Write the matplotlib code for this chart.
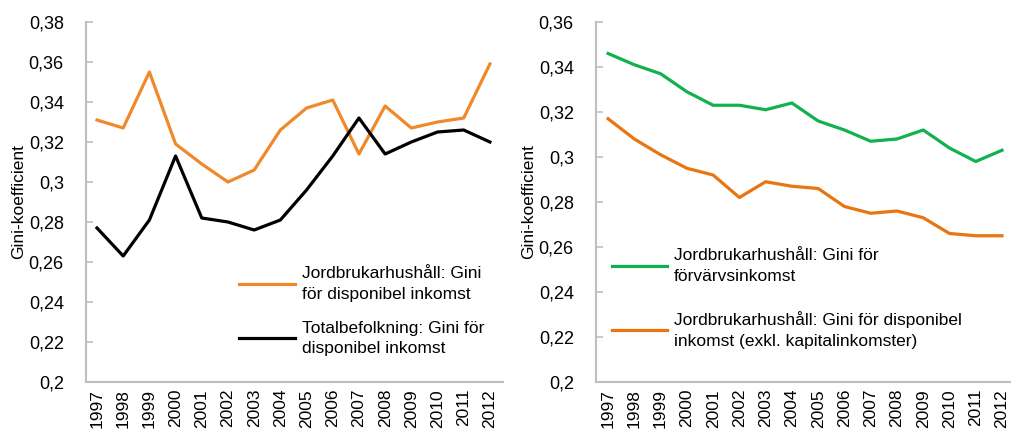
import matplotlib
matplotlib.use("Agg")
import matplotlib.pyplot as plt
from matplotlib.ticker import FuncFormatter

years = [str(y) for y in range(1997, 2013)]

jord_disp = [0.331, 0.327, 0.355, 0.319, 0.309, 0.300, 0.306, 0.326,
             0.337, 0.341, 0.314, 0.338, 0.327, 0.330, 0.332, 0.359]
total_disp = [0.277, 0.263, 0.281, 0.313, 0.282, 0.280, 0.276, 0.281,
              0.296, 0.313, 0.332, 0.314, 0.320, 0.325, 0.326, 0.320]

jord_forv = [0.346, 0.341, 0.337, 0.329, 0.323, 0.323, 0.321, 0.324,
             0.316, 0.312, 0.307, 0.308, 0.312, 0.304, 0.298, 0.303]
jord_exkl = [0.317, 0.308, 0.301, 0.295, 0.292, 0.282, 0.289, 0.287,
             0.286, 0.278, 0.275, 0.276, 0.273, 0.266, 0.265, 0.265]

left_ticks = [0.2, 0.22, 0.24, 0.26, 0.28, 0.3, 0.32, 0.34, 0.36, 0.38]
right_ticks = [0.2, 0.22, 0.24, 0.26, 0.28, 0.3, 0.32, 0.34, 0.36]

plt.rcParams['font.family'] = ['Liberation Sans Narrow', 'Liberation Sans', 'DejaVu Sans']
plt.rcParams['font.size'] = 12

def fmt(v, pos):
    s = ('%.2f' % v).rstrip('0').rstrip('.')
    return s.replace('.', ',')

fig = plt.figure(figsize=(10.12, 4.3), dpi=100)
W, H = 1012, 430
ax1 = fig.add_axes([86 / W, 48 / H, (503 - 86) / W, (382 - 22) / H])
ax2 = fig.add_axes([596 / W, 48 / H, (1012 - 596) / W, (382 - 22) / H])

x = list(range(len(years)))

ax1.plot(x, jord_disp, color='#F0892A', lw=2.3,
         label='Jordbrukarhushåll: Gini\nför disponibel inkomst')
ax1.plot(x, total_disp, color='#000000', lw=2.3,
         label='Totalbefolkning: Gini för\ndisponibel inkomst')
ax1.set_ylim(0.2, 0.38)
ax1.set_yticks(left_ticks)
ax1.set_xlim(-0.42, 15.5)

ax2.plot(x, jord_forv, color='#12B04E', lw=2.3,
         label='Jordbrukarhushåll: Gini för\nförvärvsinkomst')
ax2.plot(x, jord_exkl, color='#E8750F', lw=2.3,
         label='Jordbrukarhushåll: Gini för disponibel\ninkomst (exkl. kapitalinkomster)')
ax2.set_ylim(0.2, 0.36)
ax2.set_yticks(right_ticks)
ax2.set_xlim(-0.46, 15.38)

for ax in (ax1, ax2):
    ax.set_xticks(x)
    ax.set_xticklabels(years, rotation=90)
    ax.yaxis.set_major_formatter(FuncFormatter(fmt))
    for s in ('top', 'right'):
        ax.spines[s].set_visible(False)
    for s in ('left', 'bottom'):
        ax.spines[s].set_color('#BFBFBF')
        ax.spines[s].set_linewidth(1.5)
    ax.tick_params(axis='y', direction='in', length=5, width=1.2, color='#BFBFBF',
                   pad=16, labelsize=13)
    ax.tick_params(axis='x', length=0, pad=5, labelsize=12.5)
    ax.set_ylabel('Gini-koefficient', fontsize=12.5)
    ax.yaxis.set_label_coords(-0.143, 0.5)

leg1 = ax1.legend(loc='upper left', bbox_to_anchor=(0.33, 0.365), frameon=False,
                  fontsize=12.5, handlelength=3.2, handletextpad=0.4, labelspacing=1.1)
leg2 = ax2.legend(loc='upper left', bbox_to_anchor=(0.0, 0.415), frameon=False,
                  fontsize=12.5, handlelength=3.2, handletextpad=0.4, labelspacing=1.6)
for leg in (leg1, leg2):
    for t in leg.get_texts():
        t.set_linespacing(1.45)

fig.savefig('out.png', dpi=100)
